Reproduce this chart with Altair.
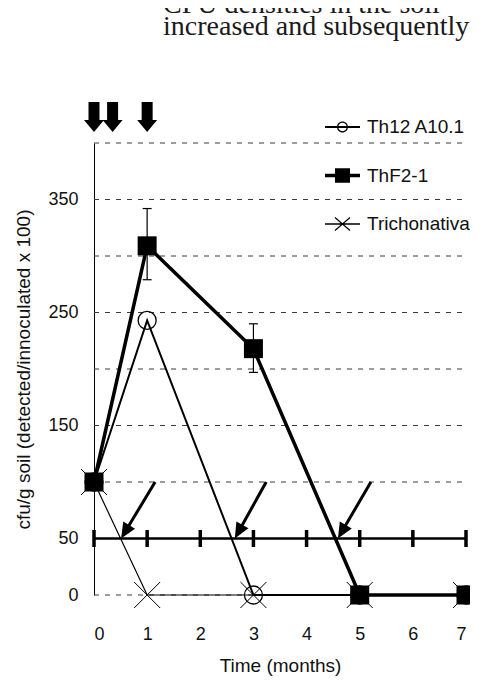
import math
import altair as alt
import pandas as pd

# ---------------- data ----------------
months = [0, 1, 3, 5, 7]
th12 = [100, 243, 0, 0, 0]
thf2 = [100, 309, 218, 0, 0]
trich = [100, 0, 0, 0, 0]
series_names = ["Th12 A10.1", "ThF2-1", "Trichonativa"]

err_months = [1, 3]
err_low = [279, 197]
err_high = [342, 240]

grid_values = [0, 50, 100, 150, 200, 250, 300, 350, 400]
y_label_values = [0, 50, 150, 250, 350]
x_label_values = [0, 1, 2, 3, 4, 5, 6, 7]

timeline_months = [0, 1, 2, 3, 4, 5, 6, 7]
timeline_level = 50

application_months = [0, 0.35, 1]
application_level = 423

arrow_tail_months = [1.15, 3.24, 5.21]
arrow_tip_months = [0.51, 2.65, 4.59]
arrow_tail_level = 100
arrow_tip_level = 50

title_lines = ["CFU densities in the soil", "increased and subsequently"]
x_title = "Time (months)"
y_title = "cfu/g soil (detected/innoculated x 100)"

# ---------------- layout ----------------
W, H = 372, 452
X_MAX, Y_MAX = 7, 400
FONT = "Liberation Sans"
INK = "#111111"

xs = alt.Scale(domain=[0, X_MAX], nice=False, zero=False)
ys = alt.Scale(domain=[0, Y_MAX], nice=False)

x_axis = alt.Axis(values=x_label_values, grid=False, domain=False, ticks=False, tickSize=0,
                  labelFont=FONT, labelFontSize=18, labelColor=INK, labelPadding=30,
                  title=x_title, titleFont=FONT, titleFontSize=19, titleFontWeight="normal",
                  titleColor=INK, titlePadding=13)
y_axis = alt.Axis(values=y_label_values, grid=False, domain=True, domainColor="black",
                  domainWidth=1, ticks=False, tickSize=0,
                  labelFont=FONT, labelFontSize=18, labelColor=INK, labelPadding=16,
                  title=y_title, titleFont=FONT, titleFontSize=19, titleFontWeight="normal",
                  titleColor=INK, titlePadding=14)


def X(field):
    return alt.X(field, type="quantitative", scale=xs, axis=x_axis)


def Y(field):
    return alt.Y(field, type="quantitative", scale=ys, axis=y_axis)


# ---------------- tables ----------------
df_grid = pd.DataFrame({"y": grid_values, "x": [0] * len(grid_values), "x2": [X_MAX] * len(grid_values)})
df_series = pd.DataFrame({"x": months, "th12": th12, "thf2": thf2, "trich": trich})
df_err = pd.DataFrame({"x": err_months, "lo": err_low, "hi": err_high})
df_tl_line = pd.DataFrame({"x": [min(timeline_months)], "x2": [max(timeline_months)], "y": [timeline_level]})
df_tl_ticks = pd.DataFrame({"x": timeline_months, "y": [timeline_level] * len(timeline_months)})
df_app = pd.DataFrame({"x": application_months, "y": [application_level] * len(application_months)})

px_x = W / X_MAX
px_y = H / Y_MAX
rows = []
for tx, hx in zip(arrow_tail_months, arrow_tip_months):
    dx = (hx - tx) * px_x
    dy = (arrow_tail_level - arrow_tip_level) * px_y
    ang = math.degrees(math.atan2(-dx, dy))
    f = 0.82
    rows.append({"tx": tx, "ty": arrow_tail_level,
                 "sx": tx + f * (hx - tx), "sy": arrow_tail_level + f * (arrow_tip_level - arrow_tail_level),
                 "hx": hx, "hy": arrow_tip_level, "angle": ang})
df_arrows = pd.DataFrame(rows)

# ---------------- shapes ----------------
CROSS = "M-1,-1L1,1M-1,1L1,-1"
HEAD = "M0,0L-1.15,-2.6L1.15,-2.6Z"
APP_ARROW = "M-0.55,-1.5H0.55V0.3H1L0,1.5L-1,0.3H-0.55Z"


def seg(x1, y1, x2, y2, hw):
    L = math.hypot(x2 - x1, y2 - y1)
    nx, ny = -(y2 - y1) / L * hw, (x2 - x1) / L * hw
    pts = [(x1 + nx, y1 + ny), (x2 + nx, y2 + ny), (x2 - nx, y2 - ny), (x1 - nx, y1 - ny)]
    area = sum(pts[i][0] * pts[(i + 1) % 4][1] - pts[(i + 1) % 4][0] * pts[i][1] for i in range(4))
    if area < 0:
        pts = pts[::-1]
    return "M" + "L".join(f"{a:.3f},{b:.3f}" for a, b in pts) + "Z"


def ring(r_out, r_in):
    o = f"M{-r_out},0A{r_out},{r_out},0,1,1,{r_out},0A{r_out},{r_out},0,1,1,{-r_out},0Z"
    i = f"M{-r_in},0A{r_in},{r_in},0,1,0,{r_in},0A{r_in},{r_in},0,1,0,{-r_in},0Z"
    return o + i


legend_paths = [
    seg(-1, 0, 1, 0, 0.055) + ring(0.314, 0.24),
    seg(-1, 0, 1, 0, 0.1) + "M-0.43,-0.41H0.43V0.41H-0.43Z",
    seg(-1, 0, 1, 0, 0.037) + seg(-0.43, -0.37, 0.43, 0.37, 0.034) + seg(-0.43, 0.37, 0.43, -0.37, 0.034),
]
df_legend = pd.DataFrame({"series": series_names, "x": [0] * 3, "y": [0] * 3})

# ---------------- layers ----------------
grid = alt.Chart(df_grid).mark_rule(color="#3a3a3a", strokeWidth=1, strokeDash=[5, 6]).encode(
    x=X("x"), x2="x2", y=Y("y"))

tl_line = alt.Chart(df_tl_line).mark_rule(color="black", strokeWidth=2.6).encode(
    x=X("x"), x2="x2", y=Y("y"))
tl_ticks = alt.Chart(df_tl_ticks).mark_tick(color="black", orient="vertical", size=17, thickness=3.5,
                                            opacity=1).encode(x=X("x"), y=Y("y"))

arrow_shafts = alt.Chart(df_arrows).mark_rule(color="black", strokeWidth=3).encode(
    x=X("tx"), y=Y("ty"), x2="sx", y2="sy")
arrow_heads = alt.Chart(df_arrows).mark_point(shape=HEAD, size=144, filled=True, color="black",
                                              strokeWidth=0, opacity=1).encode(
    x=X("hx"), y=Y("hy"), angle=alt.Angle("angle:Q", scale=None))

trich_line = alt.Chart(df_series).mark_line(color="black", strokeWidth=1.2).encode(x=X("x"), y=Y("trich"))
trich_pts = alt.Chart(df_series).mark_point(shape=CROSS, size=676, filled=False, color="black",
                                            strokeWidth=1, opacity=1).encode(x=X("x"), y=Y("trich"))

th12_line = alt.Chart(df_series).mark_line(color="black", strokeWidth=2).encode(x=X("x"), y=Y("th12"))
th12_pts = alt.Chart(df_series).mark_point(shape="circle", size=324, filled=False, color="black",
                                           strokeWidth=1.3, opacity=1).encode(x=X("x"), y=Y("th12"))

thf2_line = alt.Chart(df_series).mark_line(color="black", strokeWidth=3.5).encode(x=X("x"), y=Y("thf2"))
err_rule = alt.Chart(df_err).mark_rule(color="black", strokeWidth=1.2).encode(x=X("x"), y=Y("lo"), y2="hi")
err_lo = alt.Chart(df_err).mark_tick(color="black", orient="horizontal", size=9, thickness=1.2,
                                     opacity=1).encode(x=X("x"), y=Y("lo"))
err_hi = alt.Chart(df_err).mark_tick(color="black", orient="horizontal", size=9, thickness=1.2,
                                     opacity=1).encode(x=X("x"), y=Y("hi"))
thf2_pts = alt.Chart(df_series).mark_point(shape="square", size=361, filled=True, color="black",
                                           strokeWidth=0, opacity=1).encode(x=X("x"), y=Y("thf2"))

app_arrows = alt.Chart(df_app).mark_point(shape=APP_ARROW, size=400, filled=True, color="black",
                                          strokeWidth=0, opacity=1).encode(x=X("x"), y=Y("y"))

legend_layer = alt.Chart(df_legend).transform_filter("false").mark_point(
    filled=True, color="black", strokeWidth=0, opacity=1).encode(
    x=X("x"), y=Y("y"),
    shape=alt.Shape("series:N", scale=alt.Scale(domain=series_names, range=legend_paths),
                    legend=alt.Legend(orient="none", legendX=231, legendY=-33.5, title=None,
                                      padding=0, symbolSize=1225, symbolFillColor="black",
                                      symbolStrokeWidth=0, symbolOpacity=1, symbolOffset=0,
                                      labelFont=FONT, labelFontSize=19, labelColor=INK,
                                      labelOffset=7, rowPadding=20.5, labelLimit=300)))

chart = alt.layer(
    grid, tl_line, tl_ticks, arrow_shafts, arrow_heads,
    trich_line, trich_pts, th12_line, th12_pts,
    thf2_line, err_rule, err_lo, err_hi, thf2_pts,
    app_arrows, legend_layer,
).properties(
    width=W, height=H,
    title=alt.TitleParams(text=title_lines, font="Liberation Serif", fontSize=28, fontWeight="normal",
                          color="#1a1a1a", anchor="start", frame="group", dx=69, lineHeight=22,
                          offset=61),
    autosize=alt.AutoSizeParams(type="none"),
    padding={"left": 86, "top": 135, "right": 4, "bottom": 82},
).configure_view(stroke=None)

chart.save("out.html", embed_options={"renderer": "svg", "actions": False})
